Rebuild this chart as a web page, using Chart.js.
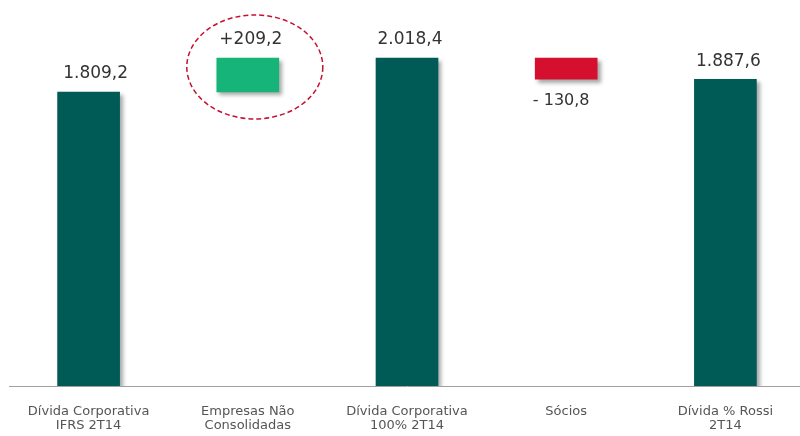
<!DOCTYPE html>
<html>
<head>
<meta charset="utf-8">
<script src="https://cdn.jsdelivr.net/npm/chart.js@4.4.1/dist/chart.umd.min.js"></script>
<style>
  html, body { margin: 0; padding: 0; background: #fff; overflow: hidden; }
  #wrap { width: 805px; height: 436px; }
</style>
</head>
<body>
<div id="wrap"><canvas id="divida"></canvas></div>
<script>
// Ponte da dívida corporativa (R$ milhões)
const categorias = [
  ['Dívida Corporativa', 'IFRS 2T14'],
  ['Empresas Não', 'Consolidadas'],
  ['Dívida Corporativa', '100% 2T14'],
  'Sócios',
  ['Dívida % Rossi', '2T14']
];
const valores = [1809.2, 209.2, 2018.4, -130.8, 1887.6];
const tipos = ['total', 'delta', 'total', 'delta', 'total'];

const corTotal = '#005a55';
const corPositivo = '#16b478';
const corNegativo = '#d5102e';

// monta as barras flutuantes a partir dos valores
const faixas = [];
let acumulado = 0;
valores.forEach((v, i) => {
  if (tipos[i] === 'total') {
    acumulado = v;
    faixas.push([0, v]);
  } else {
    faixas.push([acumulado, acumulado + v]);
    acumulado += v;
  }
});
const cores = valores.map((v, i) => tipos[i] === 'total' ? corTotal : (v >= 0 ? corPositivo : corNegativo));

const fmt = n => Math.abs(n).toLocaleString('pt-BR', { minimumFractionDigits: 1, maximumFractionDigits: 1 });
function rotulo(i) {
  const v = valores[i];
  if (tipos[i] === 'total') return fmt(v);
  return v >= 0 ? '+' + fmt(v) : '- ' + fmt(v);
}

// sombra nas barras
const sombra = {
  id: 'sombra',
  beforeDatasetsDraw(chart) {
    const ctx = chart.ctx;
    ctx.save();
    ctx.shadowColor = 'rgba(0,0,0,0.35)';
    ctx.shadowBlur = 4;
    ctx.shadowOffsetX = 3;
    ctx.shadowOffsetY = 3;
  },
  afterDatasetsDraw(chart) {
    chart.ctx.restore();
  }
};

// rótulos de valor e destaque
const rotulos = {
  id: 'rotulos',
  afterDraw(chart) {
    const ctx = chart.ctx;
    const meta = chart.getDatasetMeta(0);
    ctx.save();
    ctx.fillStyle = '#333';
    ctx.textAlign = 'center';
    ctx.textBaseline = 'middle';
    meta.data.forEach((bar, i) => {
      const topo = Math.min(bar.y, bar.base);
      const fundo = Math.max(bar.y, bar.base);
      if (valores[i] < 0) {
        ctx.font = '16px "DejaVu Sans"';
        ctx.fillText(rotulo(i), bar.x - 5, fundo + 22);
      } else {
        ctx.font = '17px "DejaVu Sans"';
        ctx.fillText(rotulo(i), bar.x + (i === 0 ? 7 : 3), topo - 18);
      }
    });
    // elipse tracejada em volta das empresas não consolidadas
    const b = meta.data[1];
    const cy = (Math.min(b.y, b.base) + Math.max(b.y, b.base)) / 2 - 8;
    ctx.beginPath();
    ctx.ellipse(b.x + 7, cy, 68, 52, 0, 0, Math.PI * 2);
    ctx.strokeStyle = '#c8102e';
    ctx.lineWidth = 1.5;
    ctx.setLineDash([5, 3]);
    ctx.stroke();
    ctx.restore();
  }
};

new Chart(document.getElementById('divida'), {
  type: 'bar',
  data: {
    labels: categorias,
    datasets: [{
      data: faixas,
      backgroundColor: cores,
      borderSkipped: false,
      barThickness: 62
    }]
  },
  options: {
    responsive: true,
    maintainAspectRatio: false,
    animation: false,
    layout: { padding: { left: 9, right: 0, top: 0, bottom: 0 } },
    plugins: {
      legend: { display: false },
      tooltip: { enabled: false }
    },
    scales: {
      x: {
        grid: { display: false, drawTicks: false },
        border: { display: true, color: '#a0a0a0', width: 1 },
        ticks: {
          padding: 18,
          color: '#555',
          font: { family: '"DejaVu Sans"', size: 13, lineHeight: 1.1 }
        },
        afterFit(scale) { scale.height = 50; }
      },
      y: {
        display: false,
        min: 0,
        max: 2375
      }
    }
  },
  plugins: [sombra, rotulos]
});
</script>
</body>
</html>
